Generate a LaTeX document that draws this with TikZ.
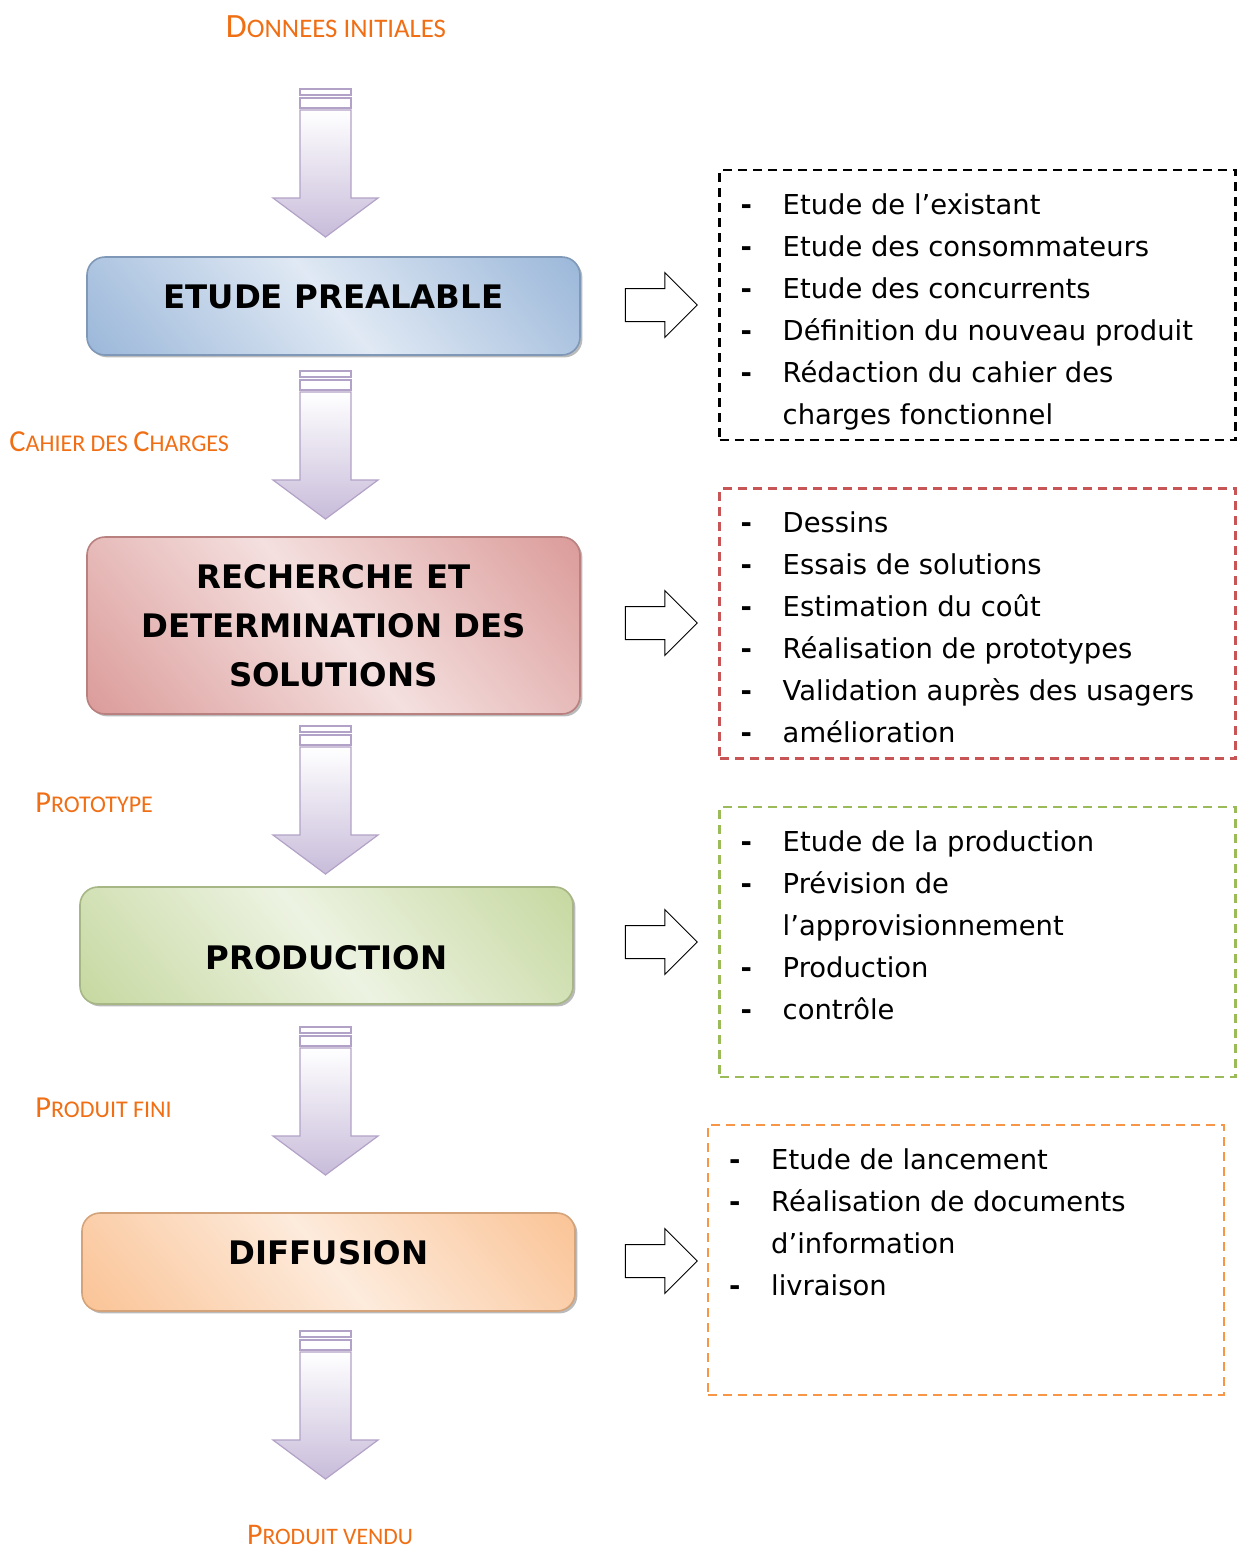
\documentclass[tikz,border=0pt]{standalone}
\usepackage{fontspec}
\setmainfont{DejaVu Sans}
\newfontfamily\labelfont{Carlito}
\usetikzlibrary{shapes.arrows,shadows}

\definecolor{labelorange}{RGB}{240,110,20}
\definecolor{bluedeep}{RGB}{149,179,215}
\definecolor{bluepale}{RGB}{224,233,244}
\definecolor{reddeep}{RGB}{217,150,148}
\definecolor{redpale}{RGB}{244,224,223}
\definecolor{greendeep}{RGB}{195,214,155}
\definecolor{greenpale}{RGB}{237,243,226}
\definecolor{orangedeep}{RGB}{250,192,144}
\definecolor{orangepale}{RGB}{253,235,220}
\definecolor{lilac}{RGB}{200,188,218}
\definecolor{lilacdeep}{RGB}{179,162,199}
\definecolor{dashred}{RGB}{200,85,85}
\definecolor{dashgreen}{RGB}{155,187,89}
\definecolor{dashorange}{RGB}{247,150,70}
\colorlet{stagedeep}{bluedeep}
\colorlet{stagepale}{bluepale}

% broad light band across the stage boxes
\pgfdeclarehorizontalshading[stagedeep,stagepale]{stageband}{100bp}{%
  color(0bp)=(stagedeep); color(12bp)=(stagedeep); color(50bp)=(stagepale);
  color(88bp)=(stagedeep); color(100bp)=(stagedeep)}

\newcommand{\bigletter}[1]{\scalebox{1.27}{#1}}
\newcommand{\tiret}{\makebox[21pt][l]{\textbf{-}}}

\begin{document}
\begin{tikzpicture}[x=0.5pt, y=-0.5pt,
  stage/.style 2 args={rounded corners=9pt, draw=#1!85!black, line width=0.8pt,
    /utils/exec={\colorlet{stagedeep}{#1}\colorlet{stagepale}{#2}},
    shading=stageband, shading angle=40,
    drop shadow={shadow xshift=1.2pt, shadow yshift=-1.2pt, fill=black!45, opacity=0.6},
    minimum width=246.5pt, align=center, inner sep=0pt,
    font=\fontsize{16.2}{24.5}\selectfont\bfseries},
  tasks/.style={draw=#1, dash pattern=on 4.5pt off 3pt, line width=1.2pt,
    minimum width=258pt, minimum height=135pt, inner sep=0pt},
  tasklist/.style={anchor=north west, inner sep=0pt, align=left,
    font=\fontsize{13.7}{21}\selectfont},
  goarrow/.style={single arrow, draw=black, fill=white, line width=0.5pt,
    minimum height=36pt, minimum width=32pt, single arrow head extend=8pt,
    inner xsep=0pt, inner ysep=8pt},
  flowlabel/.style={text=labelorange, inner sep=0pt, font=\labelfont\fontsize{#1}{#1}\selectfont},
  flowlabel/.default=12
]

    % Page frame
    \useasboundingbox (0,0) rectangle (1240,1549);

    % Down arrows between the stages
    \foreach \ya in {89,371,726,1027,1331} {
      \draw[lilacdeep, fill=white, line width=0.6pt] (300,\ya) rectangle (351,\ya+6);
      \draw[lilacdeep, fill=white, line width=0.6pt] (300,\ya+9) rectangle (351,\ya+19);
      \draw[lilacdeep, top color=white, bottom color=lilac, line width=0.6pt]
        (300,\ya+21) -- (300,\ya+109) -- (273,\ya+109) -- (325.5,\ya+148)
        -- (378,\ya+109) -- (351,\ya+109) -- (351,\ya+21) -- cycle;
    }

    % Stages
    \node[stage={bluedeep}{bluepale}, minimum height=49pt, text depth=9pt]
      (etude) at (333.5,306) {ETUDE PREALABLE};
    \node[stage={reddeep}{redpale}, minimum height=88.5pt]
      (recherche) at (333.5,625.5) {RECHERCHE ET\\DETERMINATION DES\\SOLUTIONS};
    \node[stage={greendeep}{greenpale}, minimum height=58.5pt, text height=24pt, text depth=0pt]
      (production) at (326.5,945.5) {PRODUCTION};
    \node[stage={orangedeep}{orangepale}, minimum height=49pt, text depth=10pt]
      (diffusion) at (328.5,1262) {DIFFUSION};

    % What goes in and out
    \node[flowlabel=13.4] (donnees) at (336,27) {\bigletter{D}ONNEES INITIALES};
    \node[flowlabel, anchor=west] (cahier) at (9,442) {\bigletter{C}AHIER DES \bigletter{C}HARGES};
    \node[flowlabel, anchor=west] (prototype) at (35,803) {\bigletter{P}ROTOTYPE};
    \node[flowlabel, anchor=west] (fini) at (35,1108) {\bigletter{P}RODUIT FINI};
    \node[flowlabel=11.8] (vendu) at (330,1535) {\bigletter{P}RODUIT VENDU};

    % Task boxes
    \node[tasks=black] (tasksetude) at (977.5,305) {};
    \node[tasks=dashred] (tasksrecherche) at (977.5,623.5) {};
    \node[tasks=dashgreen] (tasksproduction) at (977.5,942) {};
    \node[tasks=dashorange] (tasksdiffusion) at (966,1260) {};

    \node[tasklist] (listetude) at ([xshift=11pt, yshift=-12pt]tasksetude.north west)
      {\tiret Etude de l’existant\\
       \tiret Etude des consommateurs\\
       \tiret Etude des concurrents\\
       \tiret Définition du nouveau produit\\
       \tiret Rédaction du cahier des\\
       \hspace*{21pt}charges fonctionnel};
    \node[tasklist] (listrecherche) at ([xshift=11pt, yshift=-12pt]tasksrecherche.north west)
      {\tiret Dessins\\
       \tiret Essais de solutions\\
       \tiret Estimation du coût\\
       \tiret Réalisation de prototypes\\
       \tiret Validation auprès des usagers\\
       \tiret amélioration};
    \node[tasklist] (listproduction) at ([xshift=11pt, yshift=-12pt]tasksproduction.north west)
      {\tiret Etude de la production\\
       \tiret Prévision de\\
       \hspace*{21pt}l’approvisionnement\\
       \tiret Production\\
       \tiret contrôle};
    \node[tasklist] (listdiffusion) at ([xshift=11pt, yshift=-12pt]tasksdiffusion.north west)
      {\tiret Etude de lancement\\
       \tiret Réalisation de documents\\
       \hspace*{21pt}d’information\\
       \tiret livraison};

    % Arrows towards the task boxes
    \node[goarrow] (goetude) at (653,305) {};
    \node[goarrow] (gorecherche) at (653,623) {};
    \node[goarrow] (goproduction) at (653,942) {};
    \node[goarrow] (godiffusion) at (653,1261) {};

\end{tikzpicture}
\end{document}
